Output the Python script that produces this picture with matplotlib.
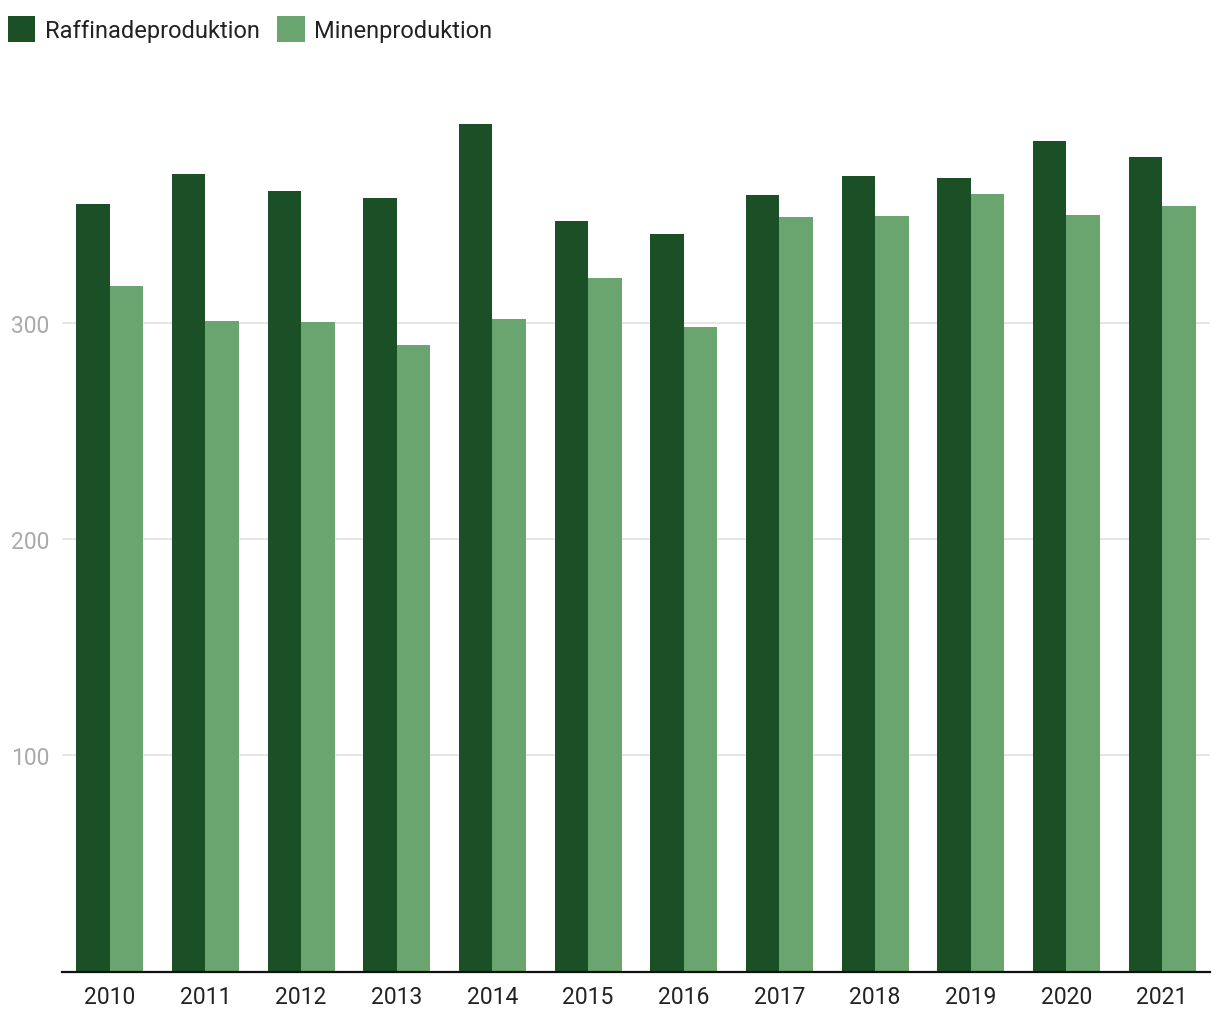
import numpy as np
import matplotlib
matplotlib.use('Agg')
import matplotlib.pyplot as plt

plt.rcParams['font.family'] = ['Roboto', 'DejaVu Sans']

years = ['2010', '2011', '2012', '2013', '2014', '2015',
         '2016', '2017', '2018', '2019', '2020', '2021']
raffinade = [355, 369, 361, 358, 392, 347, 341, 359, 368, 367, 384, 377]
minen = [317, 301, 300.5, 290, 302, 321, 298, 349, 349.5, 359.5, 350, 354]

dark = '#1b5027'
light = '#6aa56f'

fig = plt.figure(figsize=(12.2, 10.2), dpi=100)
ax = fig.add_axes([0.0508, 0.0465, 0.941, 0.869])

x = np.arange(len(years))
w = 0.35
ax.bar(x - w / 2, raffinade, w, color=dark, label='Raffinadeproduktion', zorder=3)
ax.bar(x + w / 2, minen, w, color=light, label='Minenproduktion', zorder=3)

ax.set_xlim(-0.5, len(years) - 0.5)
ax.set_ylim(0, 410)
ax.set_xticks(x)
ax.set_xticklabels(years, fontsize=16.5, color='#222222')
ax.set_yticks([100, 200, 300])
ax.set_yticklabels(['100', '200', '300'], fontsize=16.5, color='#aaaaaa')
ax.tick_params(axis='both', length=0)
ax.tick_params(axis='x', pad=10)
ax.tick_params(axis='y', pad=9)

ax.grid(axis='y', color='#e2e2e2', linewidth=1.2, zorder=0)
for s in ['top', 'right', 'left']:
    ax.spines[s].set_visible(False)
ax.spines['bottom'].set_color('#111111')
ax.spines['bottom'].set_linewidth(1.6)
ax.spines['bottom'].set_zorder(4)

# legend row in the top-left corner
fig.legend(loc='upper left', bbox_to_anchor=(-0.002, 0.994), ncol=2, frameon=False,
           fontsize=17, handlelength=1.15, handleheight=1.35, handletextpad=0.4,
           columnspacing=0.75, borderaxespad=0.25, borderpad=0.2,
           labelcolor='#222222')

fig.savefig('out.png', dpi=100)
